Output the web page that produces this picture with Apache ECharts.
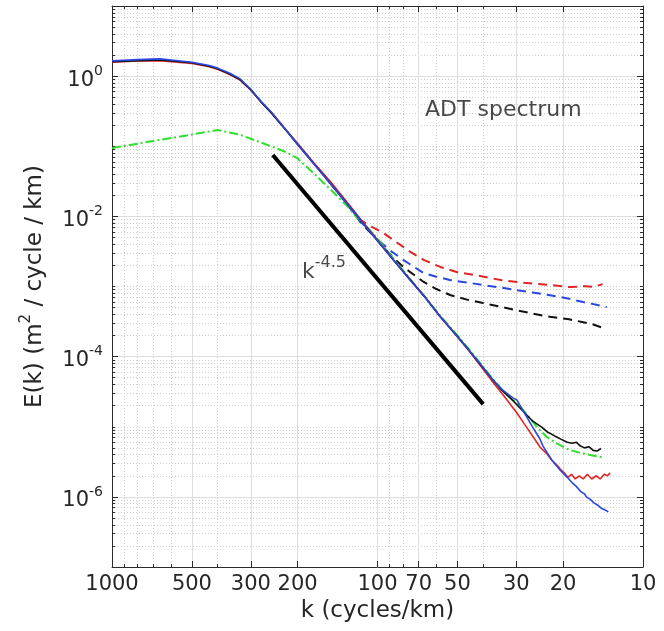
<!DOCTYPE html>
<html><head><meta charset="utf-8">
<script src="https://cdn.jsdelivr.net/npm/echarts@6/dist/echarts.min.js"></script>
<style>html,body{margin:0;padding:0;background:#fff}#c{width:664px;height:631px}</style>
</head><body><div id="c"></div>
<script>
// ---- tick labels ----
const xTickLabels = [1000, 500, 300, 200, 100, 70, 50, 30, 20, 10];
const yTickLabels = [1, 1e-2, 1e-4, 1e-6];

// ---- series values: [wavelength, E(k)] ----
const blackSolid = [[1000,1.6],[800,1.66],[660,1.7],[500,1.55],[430,1.38],[400,1.27],[360,1.07],[330,0.9],[300,0.64],[275,0.43],[250,0.29],[220,0.165],[200,0.106],[175,0.058],[150,0.029],[130,0.015],[115,0.0085],[100,0.0045],[88,0.0025],[75,0.00122],[66,0.00069],[58,0.00037],[50,0.000195],[45,0.00012],[40,0.000069],[37,0.000048],[34,0.000033],[31,0.000024],[28,0.000016],[26,0.000012],[24,0.0000098],[23,0.0000085],[21.5,0.0000074],[20.3,0.0000066],[19.3,0.000006],[18.5,0.0000058],[17.8,0.000006],[17.2,0.0000053],[16.6,0.000005],[16,0.0000052],[15.4,0.0000046],[14.9,0.0000045],[14.4,0.0000049]];
const redSolid = [[1000,1.58],[800,1.64],[660,1.66],[500,1.52],[430,1.36],[400,1.25],[360,1.05],[330,0.88],[300,0.63],[275,0.43],[250,0.3],[220,0.168],[200,0.11],[175,0.06],[150,0.031],[130,0.0158],[115,0.0088],[100,0.0046],[88,0.0025],[75,0.00124],[66,0.0007],[58,0.00037],[50,0.00019],[45,0.000118],[40,0.000066],[37,0.000045],[35.5,0.0000367],[33,0.000026],[31,0.000019],[29.8,0.0000156],[28,0.000011],[26,0.0000073],[24.4,0.0000051],[23,0.0000041],[22,0.0000033],[21,0.0000028],[20.5,0.0000025],[19.8,0.0000022],[19.2,0.0000019],[18.6,0.0000021],[18,0.0000018],[17.4,0.000002],[16.8,0.0000018],[16.2,0.0000021],[15.6,0.0000018],[15,0.000002],[14.5,0.0000018],[14,0.0000021],[13.6,0.000002],[13.3,0.0000022]];
const blueSolid = [[1000,1.65],[800,1.72],[660,1.76],[500,1.58],[430,1.42],[400,1.3],[360,1.1],[330,0.92],[300,0.65],[275,0.44],[250,0.3],[220,0.166],[200,0.107],[175,0.058],[150,0.029],[130,0.015],[115,0.0085],[100,0.0045],[88,0.0025],[75,0.00121],[66,0.00069],[58,0.00037],[50,0.000193],[45,0.00012],[40,0.00007],[37,0.000048],[34,0.000034],[31,0.000026],[29.8,0.000024],[28,0.0000158],[26,0.0000098],[24.5,0.0000068],[23.8,0.0000053],[22,0.0000033],[20.5,0.0000024],[19.3,0.0000019],[18.5,0.0000016],[17.8,0.0000014],[17.2,0.0000012],[16.6,0.0000011],[16.3,0.00000099],[15.8,0.00000092],[15.3,0.00000082],[14.8,0.00000076],[14.3,0.00000068],[14,0.00000066],[13.5,0.00000061]];
const greenDashDot = [[1000,0.094],[700,0.119],[500,0.147],[400,0.17],[330,0.146],[300,0.128],[250,0.099],[220,0.082],[200,0.067],[175,0.042],[150,0.024],[130,0.014],[120,0.0098],[110,0.0072],[100,0.0048],[88,0.0026],[75,0.00125],[66,0.0007],[58,0.00038],[50,0.0002],[45,0.000125],[40,0.000072],[37,0.000049],[34,0.000034],[31,0.000024],[29.8,0.000022],[27,0.000014],[25,0.0000098],[23,0.0000071],[21,0.0000057],[19,0.0000047],[17,0.0000042],[15.5,0.0000039],[14.3,0.0000037]];
const redDashed = [[150,0.03],[130,0.0155],[116,0.0089],[105,0.0071],[95,0.0058],[85,0.0043],[75,0.0031],[67,0.0024],[58,0.0019],[50,0.0016],[42,0.00143],[34,0.00123],[28,0.00113],[22.4,0.00105],[18.8,0.00098],[16.5,0.00101],[15.3,0.00099],[14.2,0.00108]];
const blueDashed = [[150,0.029],[130,0.0151],[116,0.0085],[100,0.0047],[90,0.0033],[80,0.0024],[67,0.00155],[60,0.00138],[53,0.00123],[46,0.00114],[40,0.00105],[34,0.00096],[30,0.00089],[26,0.00082],[22.4,0.00075],[19,0.00067],[16.8,0.0006],[15,0.00055],[13.7,0.00051]];
const blackDashed = [[130,0.0151],[116,0.0083],[100,0.0046],[90,0.0029],[80,0.0019],[67,0.00116],[60,0.00092],[53,0.00075],[46,0.00065],[40,0.00058],[34,0.00051],[30,0.00046],[26,0.00041],[22.4,0.00037],[19,0.00034],[16.8,0.00031],[15.5,0.00029],[14.3,0.00026]];
const slopeLine = [[248,0.075],[40,0.000021]];

// ---- helpers for log minor ticks ----
function logMultiples(lo, hi) {
  const out = [];
  for (let e = Math.floor(Math.log10(lo)); e <= Math.ceil(Math.log10(hi)); e++) {
    for (let m = 1; m < 10; m++) {
      const v = +(m * Math.pow(10, e)).toPrecision(6);
      if (v >= lo * 0.999 && v <= hi * 1.001) out.push(v);
    }
  }
  return out;
}
const near = (a, b) => Math.abs(Math.log10(a) - Math.log10(b)) < 1e-6;
const xMinor = logMultiples(10, 1000).filter(v => !xTickLabels.some(t => near(t, v)));
const yMinor = logMultiples(1e-7, 10).filter(v => !yTickLabels.some(t => near(t, v)));

const FONT = 'DejaVu Sans';
const TXT = '#262626';
const AX = '#2b2b2b';

function xAx(pos, major, withLabels) {
  return {
    type: 'log', logBase: 10, min: 10, max: 1000, inverse: true, position: pos,
    axisLine: { show: major, onZero: false, lineStyle: { color: AX, width: 1 } },
    axisTick: { show: true, inside: true, length: major ? 6 : 3, customValues: major ? xTickLabels : xMinor, lineStyle: { color: AX, width: 1 } },
    axisLabel: withLabels ? { show: true, customValues: xTickLabels, margin: 7, fontSize: 21, color: TXT, fontFamily: FONT, formatter: v => String(Math.round(v)) } : { show: false },
    splitLine: pos === 'bottom' ? { show: true, lineStyle: major ? { color: '#dedede', width: 1, type: 'solid' } : { color: '#cfcfcf', width: 1, type: [1, 2] } } : { show: false },
    minorTick: { show: false }, minorSplitLine: { show: false },
    name: withLabels ? 'k (cycles/km)' : '', nameLocation: 'middle', nameGap: 33,
    nameTextStyle: { fontSize: 23, color: TXT, fontFamily: FONT }
  };
}
function yAx(pos, major, withLabels) {
  return {
    type: 'log', logBase: 10, min: 1e-7, max: 10, position: pos,
    axisLine: { show: major, onZero: false, lineStyle: { color: AX, width: 1 } },
    axisTick: { show: true, inside: true, length: major ? 6 : 3, customValues: major ? yTickLabels : yMinor, lineStyle: { color: AX, width: 1 } },
    axisLabel: withLabels ? {
      show: true, customValues: yTickLabels, margin: 9,
      formatter: v => '{b|10}{s|' + Math.round(Math.log10(v)) + '}',
      rich: {
        b: { fontSize: 21, fontFamily: FONT, color: TXT, lineHeight: 24, padding: [8, 0, 0, 0] },
        s: { fontSize: 14, fontFamily: FONT, color: TXT, lineHeight: 14, verticalAlign: 'top' }
      }
    } : { show: false },
    splitLine: pos === 'left' ? { show: true, lineStyle: major ? { color: '#dedede', width: 1, type: 'solid' } : { color: '#cfcfcf', width: 1, type: [1, 2] } } : { show: false },
    minorTick: { show: false }, minorSplitLine: { show: false },
    name: withLabels ? '{a|E(k) (m}{s|2}{a| / cycle / km)}' : '', nameLocation: 'middle', nameGap: 67,
    nameTextStyle: {
      rich: {
        a: { fontSize: 23, fontFamily: FONT, color: TXT, lineHeight: 26, padding: [6, 0, 0, 0] },
        s: { fontSize: 15, fontFamily: FONT, color: TXT, lineHeight: 15, verticalAlign: 'top' }
      }
    }
  };
}

function lineSeries(name, data, color, type, width, z) {
  return {
    name, type: 'line', data, xAxisIndex: 0, yAxisIndex: 0,
    symbol: 'none', showSymbol: false, smooth: false, silent: true, z: z,
    lineStyle: { color, width, type }
  };
}

const chart = echarts.init(document.getElementById('c'), null, { renderer: 'canvas' });
chart.setOption({
  animation: false,
  backgroundColor: '#ffffff',
  grid: { left: 112, right: 21, top: 6, bottom: 64, containLabel: false, outerBoundsMode: 'none' },
  xAxis: [xAx('bottom', true, true), xAx('bottom', false, false), xAx('top', true, false), xAx('top', false, false)],
  yAxis: [yAx('left', true, true), yAx('left', false, false), yAx('right', true, false), yAx('right', false, false)],
  series: [
    lineSeries('black dashed', blackDashed, '#111111', [9, 6], 2, 2),
    lineSeries('blue dashed', blueDashed, '#2a48e0', [9, 6], 2, 2),
    lineSeries('red dashed', redDashed, '#e02424', [9, 6], 2, 2),
    lineSeries('green', greenDashDot, '#2ee02e', [9, 3, 2, 3], 2, 3),
    lineSeries('red', redSolid, '#e02424', 'solid', 1.6, 4),
    lineSeries('black', blackSolid, '#111111', 'solid', 1.6, 4),
    lineSeries('blue', blueSolid, '#2a48e0', 'solid', 1.6, 4),
    lineSeries('k-4.5', slopeLine, '#000000', 'solid', 4, 5),
    {
      type: 'scatter', xAxisIndex: 0, yAxisIndex: 0, symbolSize: 0, silent: true, z: 6,
      data: [[66.2, 0.3285]],
      label: { show: true, position: 'right', distance: 0, formatter: 'ADT spectrum', fontSize: 22, fontFamily: FONT, color: '#1a1a1a' }
    },
    {
      type: 'scatter', xAxisIndex: 0, yAxisIndex: 0, symbolSize: 0, silent: true, z: 6,
      data: [[192.5, 0.00183]],
      label: { show: true, position: 'right', distance: 0, formatter: '{k|k}{s|-4.5}',
        rich: {
          k: { fontSize: 22, fontFamily: FONT, color: '#1a1a1a', lineHeight: 26, padding: [8, 0, 0, 0] },
          s: { fontSize: 16, fontFamily: FONT, color: '#1a1a1a', lineHeight: 16, verticalAlign: 'top' }
        } }
    }
  ]
});
</script>
</body></html>
